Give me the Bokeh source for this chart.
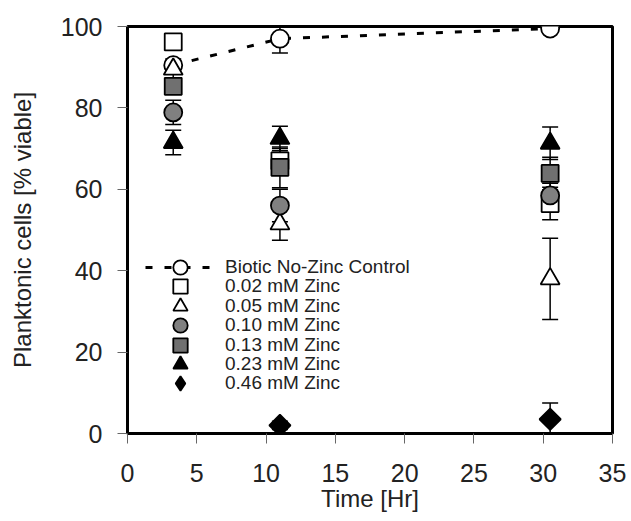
import math
from bokeh.plotting import figure
from bokeh.models import Range1d, Whisker, TeeHead, ColumnDataSource, Legend, LegendItem, FixedTicker
from bokeh.embed import file_html
from bokeh.resources import INLINE

# ---- data ----
times = [3.3, 11.0, 30.5]

labels = ["Biotic No-Zinc Control", "0.02 mM Zinc", "0.05 mM Zinc", "0.10 mM Zinc",
          "0.13 mM Zinc", "0.23 mM Zinc", "0.46 mM Zinc"]

control = [90.5, 97.0, 99.5]
control_err = [1.0, 3.5, 0.5]

zn002 = [96.2, 67.0, 56.5]
zn002_err = [2.0, 3.0, 4.0]

zn005 = [89.5, 51.5, 38.0]
zn005_err = [2.5, 4.0, 10.0]

zn010 = [78.9, 56.0, 58.5]
zn010_err = [3.0, 4.0, 3.0]

zn013 = [85.3, 65.4, 63.9]
zn013_err = [1.5, 5.0, 4.0]

zn023 = [71.5, 72.5, 71.3]
zn023_err = [3.0, 3.0, 4.0]

zn046 = [float("nan"), 2.0, 3.5]
zn046_err = [0.0, 1.0, 4.0]

x_ticks = [0, 5, 10, 15, 20, 25, 30, 35]
y_ticks = [0, 20, 40, 60, 80, 100]

FONT = "Liberation Sans"

p = figure(width=631, height=521, output_backend="svg", toolbar_location=None,
           x_range=Range1d(0, 35), y_range=Range1d(0, 100),
           min_border_left=127, min_border_right=19, min_border_top=26, min_border_bottom=88)
p.background_fill_color = "white"
p.border_fill_color = "white"
p.grid.visible = False
p.outline_line_color = "black"
p.outline_line_width = 3

for ax in (p.xaxis[0], p.yaxis[0]):
    ax.axis_line_color = "black"
    ax.axis_line_width = 3
    ax.major_tick_line_color = "#666666"
    ax.major_tick_line_width = 1
    ax.major_tick_out = 10
    ax.major_tick_in = 0
    ax.minor_tick_line_color = None
    ax.major_label_text_font = FONT
    ax.major_label_text_font_size = "25px"
    ax.major_label_text_color = "#222222"
    ax.axis_label_text_font = FONT
    ax.axis_label_text_font_size = "24px"
    ax.axis_label_text_font_style = "normal"
    ax.axis_label_text_color = "#222222"

p.xaxis.ticker = FixedTicker(ticks=x_ticks)
p.yaxis.ticker = FixedTicker(ticks=y_ticks)
p.xaxis.axis_label = "Time [Hr]"
p.yaxis.axis_label = "Planktonic cells [% viable]"
p.xaxis.major_label_standoff = 20
p.yaxis.major_label_standoff = 15
p.xaxis.axis_label_standoff = 0
p.yaxis.axis_label_standoff = 22

# (values, errors, marker, fill, size, angle)
series = [
    (control, control_err, "circle", "white", 18, 0.0),
    (zn002, zn002_err, "square", "white", 17, 0.0),
    (zn005, zn005_err, "triangle", "white", 19, 0.0),
    (zn010, zn010_err, "circle", "#808080", 18, 0.0),
    (zn013, zn013_err, "square", "#707070", 17, 0.0),
    (zn023, zn023_err, "triangle", "black", 19, 0.0),
    (zn046, zn046_err, "square", "black", 15, math.pi / 4),
]

# error bars first (behind markers)
for vals, errs, *_ in series:
    xs, up, lo = [], [], []
    for t, v, e in zip(times, vals, errs):
        if v == v and e > 0:
            xs.append(t)
            up.append(v + e)
            lo.append(max(v - e, 0))
    src = ColumnDataSource(dict(x=xs, upper=up, lower=lo))
    w = Whisker(base="x", upper="upper", lower="lower", source=src, dimension="height",
                line_color="black", line_width=1.5,
                upper_head=TeeHead(size=16, line_color="black", line_width=1.5),
                lower_head=TeeHead(size=16, line_color="black", line_width=1.5))
    p.add_layout(w)

line_r = p.line(times, control, line_color="black", line_width=3, line_dash="7 12")

renderers = []
for i, (vals, errs, marker, fill, size, ang) in enumerate(series):
    r = p.scatter(times, vals, marker=marker, size=size, angle=ang, fill_color=fill,
                  line_color="black", line_width=1.8)
    renderers.append(r)

# legend glyph for the diamond series (legend does not rotate markers)
diamond_key = p.scatter(x=[float("nan")], y=[float("nan")], marker="diamond", size=20,
                        fill_color="black", line_color="black", line_width=1.8)
legend_renderers = renderers[:-1] + [diamond_key]

# one legend per row so the rows can sit closer than the legend glyph height
row_pitch = 19.4
first_bottom = 148
for i, r in enumerate(legend_renderers):
    rs = [line_r, r] if i == 0 else [r]
    lg = Legend(items=[LegendItem(label=labels[i], renderers=rs)],
                location=(18, int(round(first_bottom - row_pitch * i))),
                padding=0, margin=0, glyph_width=70, glyph_height=36, label_height=18,
                spacing=0, label_standoff=10, label_text_font=FONT,
                label_text_font_size="19px", label_text_color="#222222",
                border_line_color=None, background_fill_alpha=0)
    p.add_layout(lg)

open("out.html", "w").write(file_html(p, INLINE))
